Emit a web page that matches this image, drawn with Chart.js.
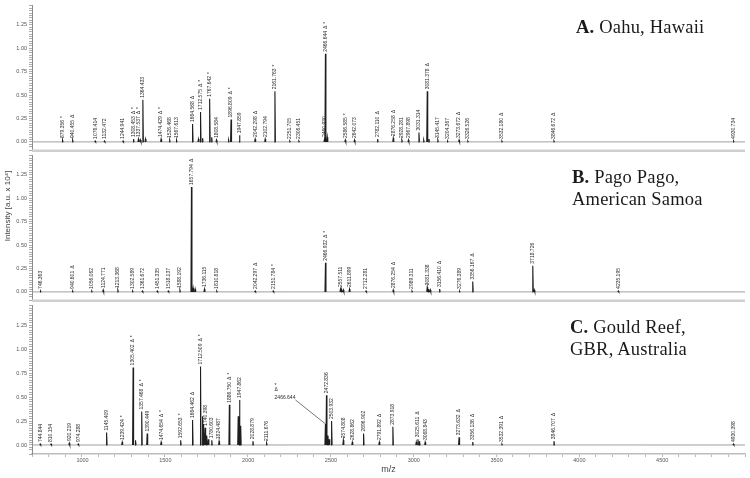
<!DOCTYPE html>
<html><head><meta charset="utf-8">
<script src="https://cdn.jsdelivr.net/npm/chart.js@4.4.1/dist/chart.umd.min.js"></script>
<style>
html,body{margin:0;padding:0;background:#fff;}
#wrap{position:relative;width:750px;height:478px;overflow:hidden;background:#fff;}
canvas{position:absolute;left:0;}
.ttl{position:absolute;font-family:"Liberation Serif","Times New Roman",serif;font-size:18.5px;letter-spacing:0.2px;line-height:22px;color:#1a1a1a;white-space:nowrap;}
</style></head><body>
<div id="wrap">
<canvas id="cA" width="750" height="156" style="top:0px;width:750px;height:156px"></canvas>
<canvas id="cB" width="750" height="156" style="top:150px;width:750px;height:156px"></canvas>
<canvas id="cC" width="750" height="178" style="top:300px;width:750px;height:178px"></canvas>
<div class="ttl" style="left:576px;top:16px"><b>A.</b> Oahu, Hawaii</div>
<div class="ttl" style="left:572px;top:166px"><b>B.</b> Pago Pago,<br>American Samoa</div>
<div class="ttl" style="left:570px;top:316px"><b>C.</b> Gould Reef,<br>GBR, Australia</div>
</div>
<script>
// ---------- DATA ----------
// Panel A: Oahu, Hawaii
const mzA = [879.356, 940.455, 1076.414, 1132.472, 1244.941, 1308.453, 1337.537, 1364.433, 1474.429, 1526.468, 1567.613, 1664.568, 1712.575, 1767.642, 1808.584, 1896.809, 1947.859, 2042.298, 2102.794, 2161.763, 2251.705, 2306.451, 2460.930, 2466.644, 2586.585, 2642.073, 2782.110, 2876.258, 2928.281, 2967.898, 3031.314, 3081.378, 3145.417, 3204.367, 3273.672, 3326.526, 3532.180, 3846.672, 4930.734];
const intA = [0.02, 0.02, 0.01, 0.01, 0.01, 0.03, 0.03, 0.45, 0.03, 0.02, 0.02, 0.19, 0.32, 0.46, 0.02, 0.24, 0.07, 0.03, 0.03, 0.54, 0.01, 0.01, 0.03, 0.94, 0.02, 0.02, 0.03, 0.04, 0.02, 0.02, 0.10, 0.54, 0.02, 0.01, 0.02, 0.01, 0.01, 0.01, 0.01];
const markA = ['*', 'Δ', '', '', '', 'Δ*', 'Δ*', '', 'Δ*', '', '', 'Δ', 'Δ*', '*', '', 'Δ*', '', 'Δ', '', '*', '', '', '', 'Δ*', '*', '', 'Δ', 'Δ', '', '', '', 'Δ', '', '', 'Δ', '', 'Δ', 'Δ', ''];
const minorMzA = [1350, 1380, 1700, 1725, 1780, 1882, 2478, 3060, 3092];
const minorIntA = [0.02, 0.03, 0.03, 0.04, 0.05, 0.02, 0.05, 0.02, 0.03];

// Panel B: Pago Pago, American Samoa
const mzB = [746.363, 940.601, 1056.062, 1124.771, 1213.368, 1302.589, 1361.672, 1451.335, 1518.137, 1588.192, 1657.794, 1736.115, 1810.818, 2042.297, 2151.784, 2466.932, 2557.511, 2611.899, 2712.281, 2876.254, 2989.311, 3081.338, 3156.410, 3276.389, 3356.167, 3718.726, 4235.195];
const intB = [0.01, 0.01, 0.01, 0.02, 0.02, 0.01, 0.01, 0.01, 0.01, 0.02, 1.12, 0.03, 0.01, 0.01, 0.01, 0.31, 0.03, 0.03, 0.01, 0.02, 0.01, 0.05, 0.03, 0.01, 0.11, 0.28, 0.01];
const markB = ['', 'Δ', '', '', '', '', '', '', '', '', 'Δ', '', '', 'Δ', '*', 'Δ*', '', '', '', 'Δ', '', '', 'Δ', '', 'Δ', '', ''];
const minorMzB = [1668, 1680, 2565, 2575, 3090, 3100, 3728];
const minorIntB = [0.04, 0.03, 0.02, 0.02, 0.03, 0.02, 0.02];

// Panel C: Gould Reef, GBR, Australia
const mzC = [744.844, 810.154, 920.219, 974.288, 1145.409, 1239.424, 1305.402, 1357.468, 1390.449, 1474.654, 1592.653, 1664.462, 1712.509, 1740.398, 1780.603, 1824.487, 1886.750, 1947.862, 2028.879, 2111.676, 2466.644, 2472.836, 2503.932, 2574.808, 2628.862, 2696.902, 2791.892, 2873.918, 3025.611, 3068.843, 3273.632, 3356.136, 3532.391, 3846.707, 4930.398];
const intC = [0.01, 0.01, 0.02, 0.01, 0.13, 0.03, 0.81, 0.35, 0.12, 0.03, 0.05, 0.26, 0.82, 0.18, 0.05, 0.04, 0.42, 0.47, 0.04, 0.02, 0.22, 0.52, 0.25, 0.05, 0.03, 0.12, 0.03, 0.19, 0.06, 0.03, 0.08, 0.03, 0.01, 0.04, 0.01];
const markC = ['', '', '', '', '', '*', 'Δ*', 'Δ*', '', 'Δ*', '*', 'Δ', 'Δ*', '', '', '', 'Δ*', '', '', '', 'Δ*', '', '', '', '', '', 'Δ', '', 'Δ', '', 'Δ', 'Δ', 'Δ', 'Δ', ''];
const calloutC = [2466.644];
const minorMzC = [1320, 1725, 1731, 1750, 1760, 1940, 1955, 2482, 2490, 3035, 3015];
const minorIntC = [0.05, 0.30, 0.22, 0.10, 0.06, 0.30, 0.20, 0.10, 0.06, 0.04, 0.03];

const xTickLabels = [1000, 1500, 2000, 2500, 3000, 3500, 4000, 4500];
const yTickLabels = [0, 0.25, 0.5, 0.75, 1.0, 1.25];

// ---------- HELPERS ----------
const X_MIN = 695, X_MAX = 5000, Y_MIN = -0.094, Y_MAX = 1.458, HW = 3;
const SANS = '"Liberation Sans", Arial, sans-serif';

function peakData(mz, h, mz2, h2) {
  const all = mz.map((m, i) => [m, h[i]]).concat(mz2.map((m, i) => [m, h2[i]]));
  all.sort((a, b) => a[0] - b[0]);
  const pts = [];
  for (const [m, v] of all) {
    pts.push({x: m - HW, y: 0}, {x: m, y: v}, {x: m + HW, y: 0}, {x: m + HW, y: null});
  }
  return pts;
}

function labelPlugin(mz, h, mk, callout) {
  return {
    id: 'peakLabels',
    afterDatasetsDraw(chart) {
      const {ctx, scales: {x, y}} = chart;
      const zero = y.getPixelForValue(0);
      ctx.save();
      ctx.font = '5px ' + SANS;
      ctx.fillStyle = '#2a2a2a';
      ctx.textBaseline = 'middle';
      ctx.textAlign = 'left';
      mz.forEach((m, i) => {
        const px = x.getPixelForValue(m);
        const top = y.getPixelForValue(h[i]);
        if (callout && callout.includes(m)) {
          const tx = px - 30, ty = top - 26;
          ctx.strokeStyle = '#555'; ctx.lineWidth = 0.8;
          ctx.beginPath(); ctx.moveTo(px, top); ctx.lineTo(tx, ty + 2); ctx.stroke();
          const s = m.toFixed(3);
          const w = ctx.measureText(s).width;
          ctx.textAlign = 'right';
          ctx.fillText(s, tx, ty);
          ctx.textAlign = 'left';
          if (mk[i].includes('Δ')) ctx.fillText('Δ', tx - w, ty - 8);
          if (mk[i].includes('*')) ctx.fillText('*', tx - w, ty - 12);
          return;
        }
        const yb = Math.min(top - 2, zero - 3);
        ctx.save();
        ctx.translate(px, yb);
        ctx.rotate(-Math.PI / 2);
        const s = m.toFixed(3);
        ctx.fillText(s, 0, 0);
        let off = ctx.measureText(s).width + 2;
        if (mk[i].includes('Δ')) { ctx.fillText('Δ', off, 0); off += ctx.measureText('Δ').width + 2; }
        if (mk[i].includes('*')) { ctx.fillText('*', off, 0); }
        ctx.restore();
      });
      ctx.restore();
    }
  };
}

const separatorPlugin = {
  id: 'separator',
  afterDraw(chart) {
    if (chart.options.scales.x.display) return;
    const {ctx, chartArea: a} = chart;
    ctx.save();
    ctx.strokeStyle = '#cfcfcf'; ctx.lineWidth = 2.5;
    ctx.beginPath(); ctx.moveTo(a.left, a.bottom); ctx.lineTo(a.right, a.bottom); ctx.stroke();
    ctx.restore();
  }
};

const xLabelPlugin = {
  id: 'xLabels',
  afterDraw(chart) {
    const {ctx, scales: {x}} = chart;
    ctx.save();
    ctx.fillStyle = '#555';
    ctx.font = '5.5px ' + SANS;
    ctx.textAlign = 'center'; ctx.textBaseline = 'top';
    xTickLabels.forEach(v => ctx.fillText(String(v), x.getPixelForValue(v), x.top + 4));
    ctx.restore();
  }
};

const yTitlePlugin = {
  id: 'yTitle',
  afterDraw(chart) {
    const {ctx} = chart;
    ctx.save();
    ctx.translate(8, 56);
    ctx.rotate(-Math.PI / 2);
    ctx.fillStyle = '#444';
    ctx.font = '8px ' + SANS;
    ctx.textAlign = 'center'; ctx.textBaseline = 'middle';
    ctx.fillText('Intensity [a.u. x 10\u2074]', 0, 0);
    ctx.restore();
  }
};

function yScale() {
  return {
    min: Y_MIN, max: Y_MAX,
    afterFit(s) { s.width = 32; },
    border: {display: true, color: '#8a8a8a', width: 1},
    grid: {drawOnChartArea: false, tickLength: 3, color: '#8a8a8a', lineWidth: 0.7},
    ticks: {
      stepSize: 0.025, maxTicksLimit: 1000, autoSkip: false, padding: 2,
      color: '#555', font: {family: SANS, size: 5.5},
      callback(v) {
        const hit = yTickLabels.find(t => Math.abs(t - v) < 1e-6);
        return hit === undefined ? '' : hit.toFixed(2);
      }
    }
  };
}

function xScale(show) {
  return {
    type: 'linear', min: X_MIN, max: X_MAX, display: show,
    afterFit(s) { if (show) s.height = 24; },
    border: {display: true, color: '#bdbdbd', width: 1.5},
    grid: {drawOnChartArea: false, tickLength: 3, color: '#9a9a9a', lineWidth: 0.7},
    ticks: {
      stepSize: 100, maxTicksLimit: 1000, autoSkip: false, maxRotation: 0, padding: 1,
      color: 'rgba(0,0,0,0)', font: {family: SANS, size: 5.5},
      callback() { return ''; }
    },
    title: {display: show, text: 'm/z', color: '#444', font: {family: SANS, size: 9}, padding: {top: 0, bottom: 3}}
  };
}

function makeChart(id, mz, h, mk, mz2, h2, showX, extraPlugins, callout) {
  return new Chart(document.getElementById(id), {
    type: 'line',
    data: {
      datasets: [
        {data: peakData(mz, h, mz2, h2), borderColor: '#1e1e1e', borderWidth: 1.1, pointRadius: 0, spanGaps: false, tension: 0},
        {data: [{x: X_MIN, y: 0}, {x: X_MAX, y: 0}], borderColor: '#a0a0a0', borderWidth: 1, pointRadius: 0}
      ]
    },
    options: {
      responsive: false, animation: false, devicePixelRatio: 1,
      layout: {padding: {top: 5, right: 5, bottom: showX ? 0 : 2, left: 0}},
      plugins: {legend: {display: false}, tooltip: {enabled: false}},
      scales: {x: xScale(showX), y: yScale()}
    },
    plugins: [labelPlugin(mz, h, mk, callout), separatorPlugin].concat(extraPlugins)
  });
}

makeChart('cA', mzA, intA, markA, minorMzA, minorIntA, false, [], null);
makeChart('cB', mzB, intB, markB, minorMzB, minorIntB, false, [yTitlePlugin], null);
makeChart('cC', mzC, intC, markC, minorMzC, minorIntC, true, [xLabelPlugin], calloutC);
</script>
</body></html>
